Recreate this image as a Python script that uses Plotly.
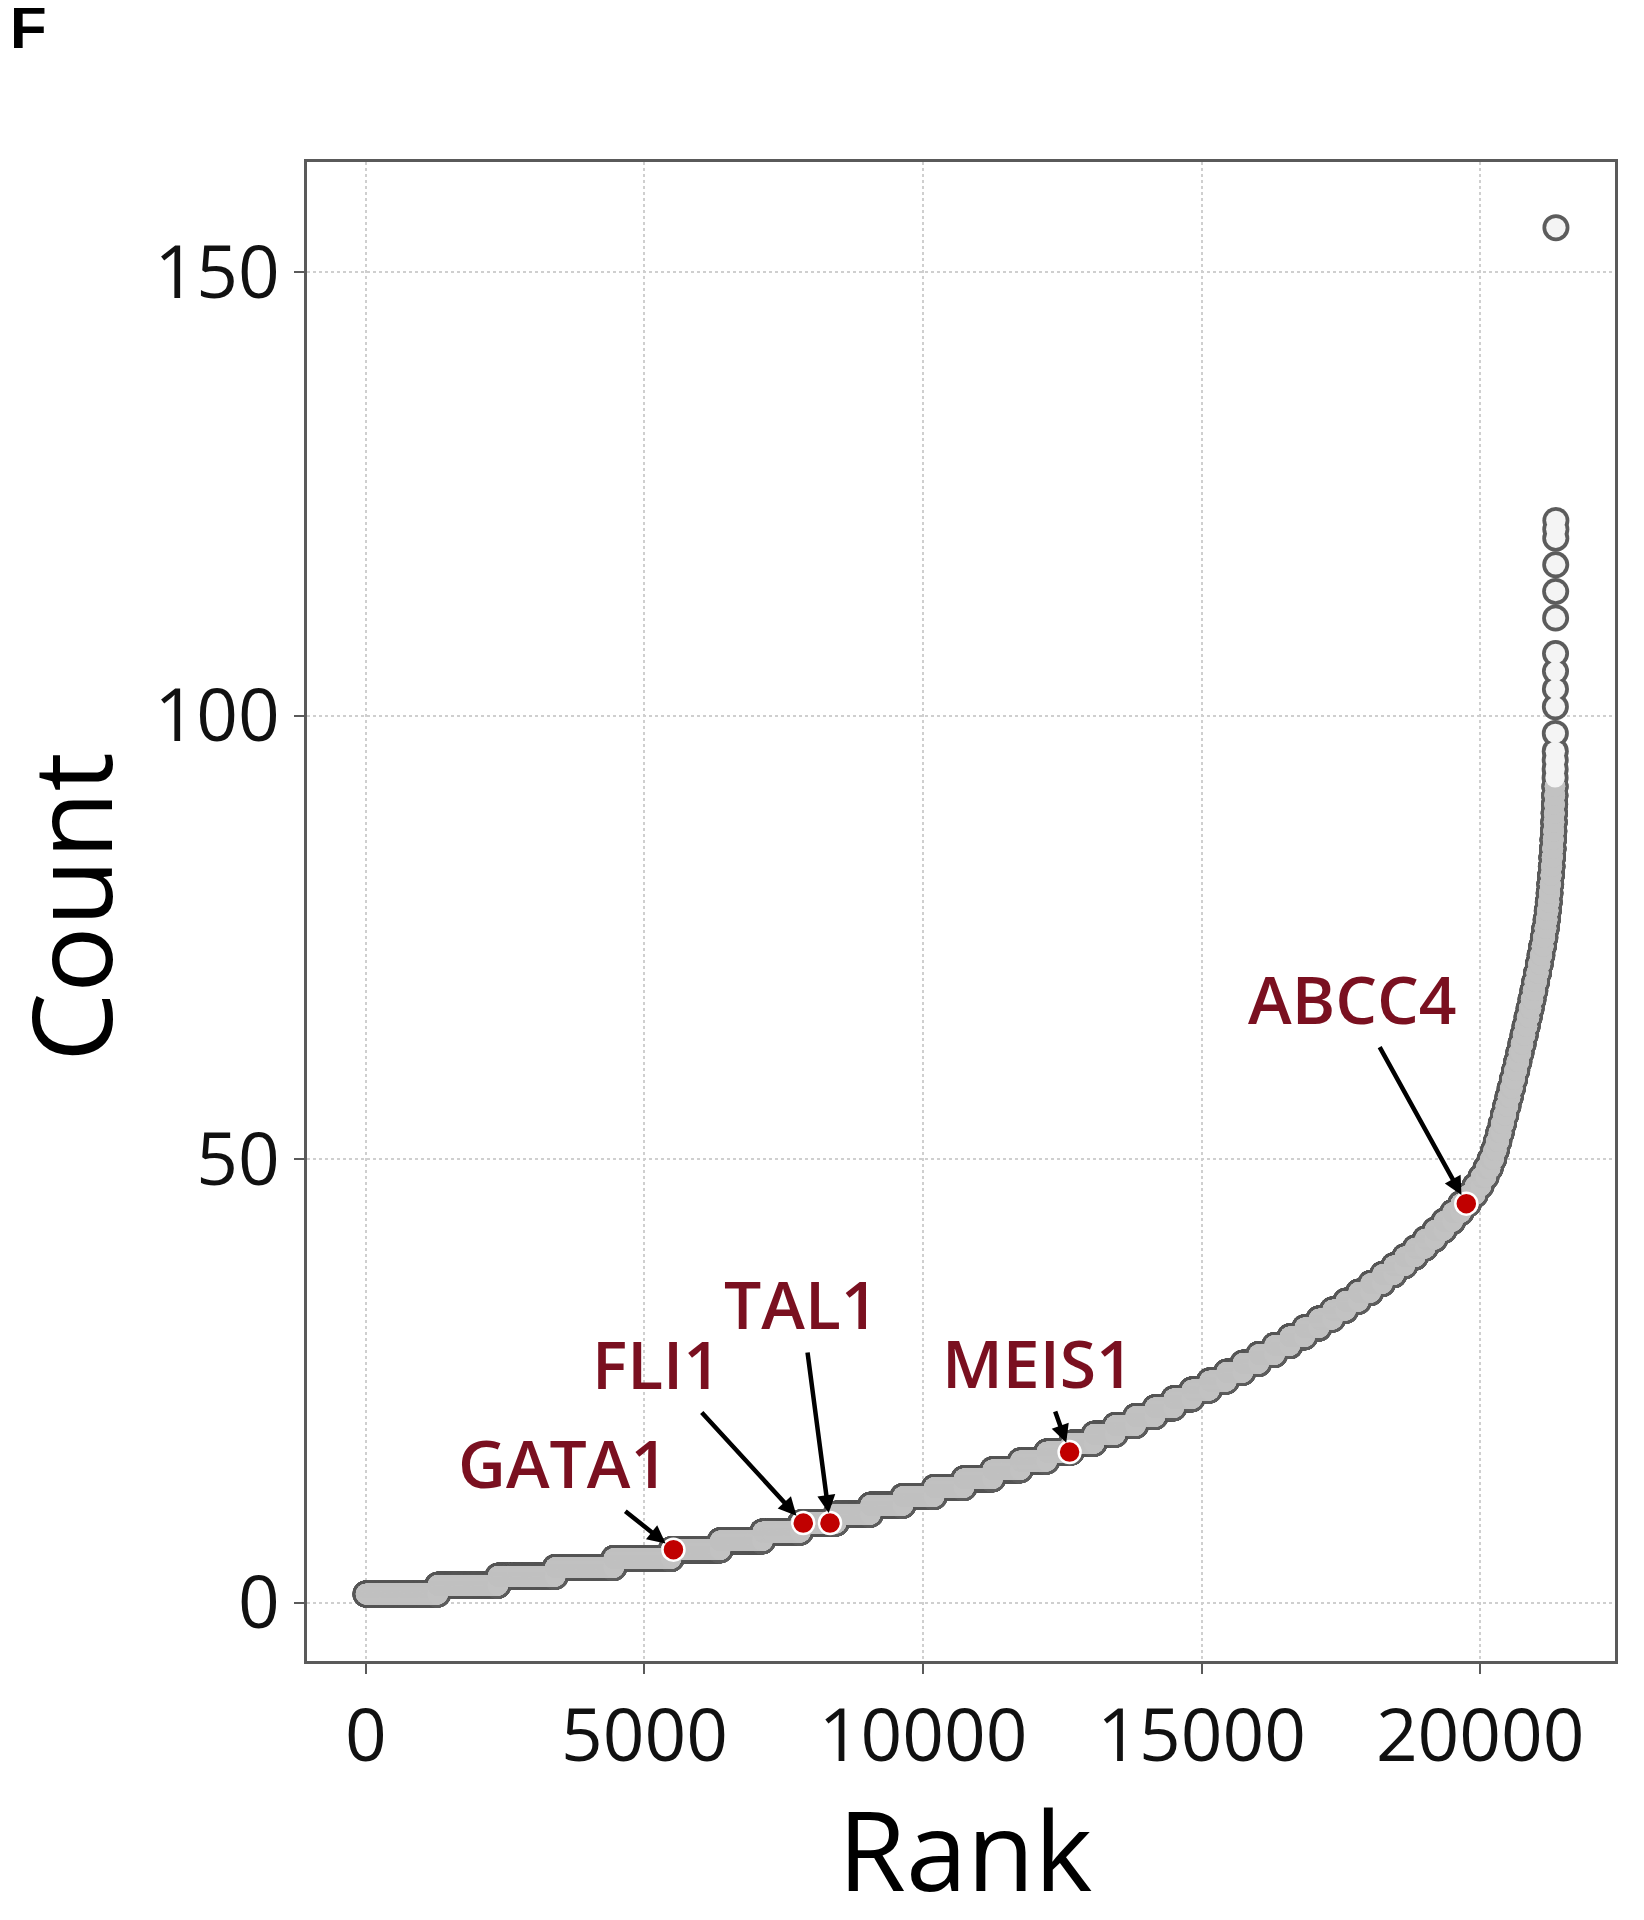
import numpy as np
import plotly.graph_objects as go

# ---- data ----
count_levels = list(range(1, 93))
genes_per_level = [
    1290, 1080, 1030, 1050, 1030, 880, 760, 680, 640, 615,
    585, 560, 535, 515, 495, 475, 440, 410, 380, 365,
    350, 335, 325, 315, 305, 295, 285, 285, 275, 265,
    255, 245, 236, 228, 220, 212, 204, 196, 188, 180,
    172, 164, 156, 146, 136, 120, 105, 90, 75, 62,
    48, 45, 43, 41, 40, 40, 40, 40, 39, 39,
    38, 38, 37, 37, 36, 36, 35, 34, 33, 33,
    32, 31, 30, 28, 26, 24, 20, 18, 16, 14,
    13, 12, 11, 10, 9, 8, 7, 6, 5, 4,
    4, 3,
]
top_counts = [93, 94, 95, 96, 98, 101, 103, 105, 107, 111, 114, 117, 120, 121, 122, 155]

highlight_genes = ["GATA1", "FLI1", "TAL1", "MEIS1", "ABCC4"]
highlight_rank = [5520, 7850, 8330, 12630, 19750]
highlight_count = [6, 9, 9, 17, 45]
label_dx = [-110, -147, -29, -32, -114]
label_dy = [-88, -160, -220, -90, -206]

x_ticks = [0, 5000, 10000, 15000, 20000]
y_ticks = [0, 50, 100, 150]

# sorted counts -> rank plot
band_counts = np.repeat(count_levels, genes_per_level)
counts = np.concatenate([band_counts, top_counts])
ranks = np.arange(1, len(counts) + 1)
n_band = len(band_counts)

fig = go.Figure()
# dark rim layer (all genes)
fig.add_trace(go.Scatter(
    x=ranks, y=counts, mode="markers",
    marker=dict(size=27, color="#5c5c5c", line=dict(width=0)),
    hoverinfo="skip", showlegend=False,
))
# light fill layer: dense band
fig.add_trace(go.Scatter(
    x=ranks[:n_band], y=counts[:n_band], mode="markers",
    marker=dict(size=20.5, color="#c2c2c2", line=dict(width=0)),
    hoverinfo="skip", showlegend=False,
))
# open interior for the sparse top genes
fig.add_trace(go.Scatter(
    x=ranks[n_band:], y=counts[n_band:], mode="markers",
    marker=dict(size=19.5, color="#f4f4f4", line=dict(width=0)),
    hoverinfo="skip", showlegend=False,
))
fig.add_trace(go.Scatter(
    x=highlight_rank, y=highlight_count, mode="markers",
    marker=dict(size=22, color="#c00000", line=dict(color="white", width=2.5)),
    hoverinfo="skip", showlegend=False,
))

for g, xr, yc, dx, dy in zip(highlight_genes, highlight_rank, highlight_count, label_dx, label_dy):
    fig.add_annotation(
        x=xr, y=yc, xref="x", yref="y", text=g, showarrow=True,
        ax=dx, ay=dy, arrowhead=2, arrowsize=0.8, arrowwidth=4.5,
        arrowcolor="black", standoff=10, borderpad=4,
        font=dict(family="Open Sans", size=66, color="#7a1020", weight=600),
    )

fig.add_annotation(x=0.503, y=-0.125, xref="paper", yref="paper", text="Rank",
                   showarrow=False, xanchor="center", yanchor="middle",
                   font=dict(family="Open Sans", size=110, color="black"))
fig.add_annotation(x=-0.182, y=0.503, xref="paper", yref="paper", text="Count",
                   showarrow=False, xanchor="center", yanchor="middle", textangle=-90,
                   font=dict(family="Open Sans", size=110, color="black"))
fig.add_annotation(x=-0.2286, y=1.0894, xref="paper", yref="paper", text="<b>F</b>",
                   showarrow=False, xanchor="left", yanchor="middle",
                   font=dict(family="Liberation Sans", size=60, color="black"))

axis_common = dict(
    showgrid=True, gridcolor="#cfcfcf", griddash="dot", gridwidth=1.5,
    zeroline=False, showline=True, linecolor="#5a5a5a", linewidth=2.5, mirror=True,
    ticks="outside", ticklen=10, tickwidth=2, tickcolor="#5a5a5a",
    tickfont=dict(family="Open Sans", size=73, color="#111111"),
)
fig.update_xaxes(range=[-1057, 22419], tickvals=x_ticks, ticktext=[str(v) for v in x_ticks], **axis_common)
fig.update_yaxes(range=[-6.55, 162.4], tickvals=y_ticks, ticktext=[str(v) for v in y_ticks], **axis_common)

fig.update_layout(
    width=1644, height=1920,
    margin=dict(l=299, r=37, t=154, b=267),
    paper_bgcolor="white", plot_bgcolor="white",
    showlegend=False,
)

fig.write_html("out.html")
